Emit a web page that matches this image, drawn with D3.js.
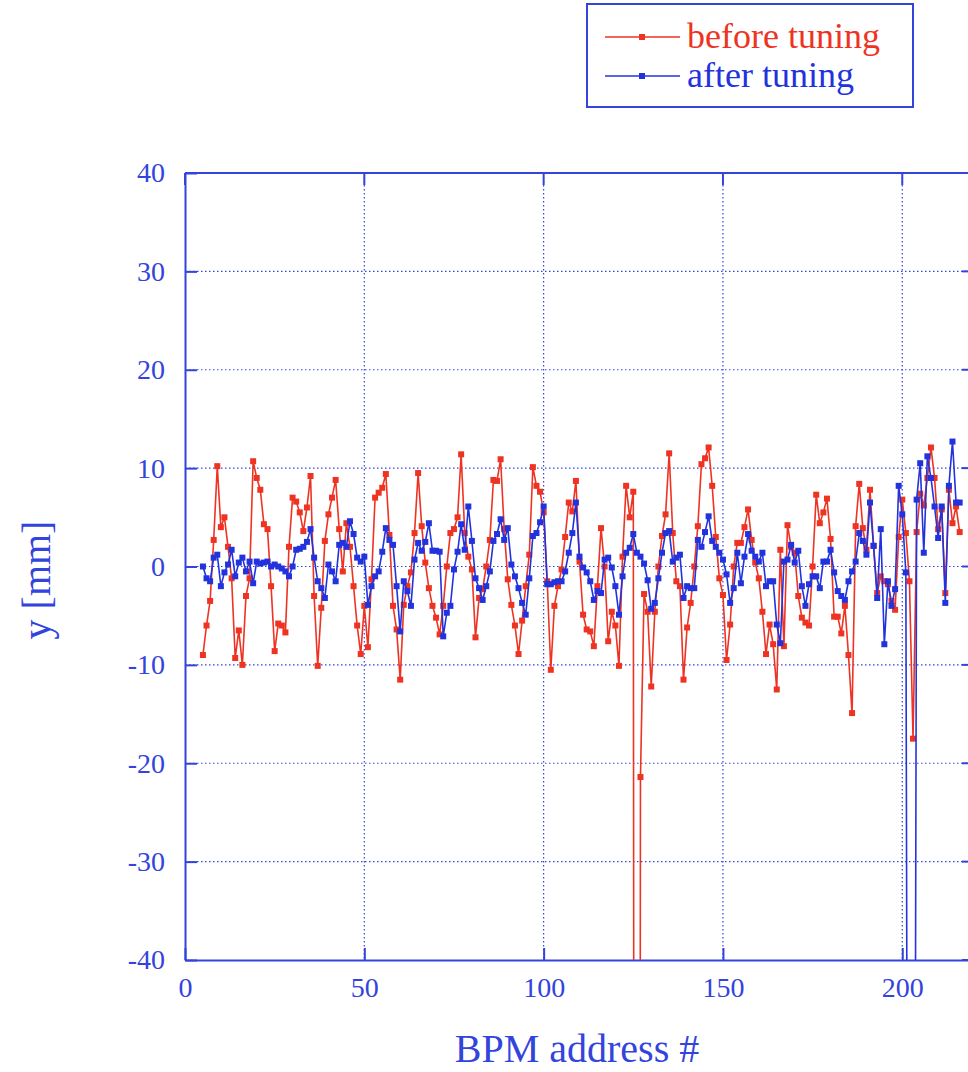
<!DOCTYPE html>
<html>
<head>
<meta charset="utf-8">
<script src="https://cdn.jsdelivr.net/npm/d3@7"></script>
<style>
  html, body { margin: 0; padding: 0; background: #fff; overflow: hidden; }
  svg { display: block; font-family: "Liberation Serif", "DejaVu Serif", serif; }
</style>
</head>
<body>
<svg id="chart" width="968" height="1072"></svg>
<script>
// BPM addresses (x) shared by both series
var addresses = d3.range(5, 217);

// vertical orbit before tuning [mm], one per address
var beforeTuning = [
  -9, -6, -3.5, 2.7, 10.2, 4, 5, 2, -1.2, -9.3,
  -6.5, -10, -3, -1.2, 10.7, 9, 7.8, 4.3, 3.8, -2,
  -8.6, -5.8, -6, -6.7, 2, 7, 6.6, 5.5, 3.6, 6,
  9.2, -3, -10.1, -4.2, 2.6, 5.3, 7, 8.8, 3.8, -0.5,
  4.4, 2, -2, -6, -8.9, -4, -8.2, -1.3, 7, 7.5,
  8, 9.4, 3.2, -4, -6.4, -11.5, -3.9, -2, -0.6, 3.4,
  9.5, 4.1, 0.4, -2.2, -4, -5.2, -6.9, -4, 0, 3.4,
  3.8, 5, 11.4, 3.4, 1, -0.3, -7.2, -3.2, -2.3, 0,
  2.7, 8.8, 8.7, 10.9, 3.8, -1.3, -3.9, -6, -8.9, -5.5,
  -2, 1.2, 10.1, 8.2, 7.6, 5.5, -1.5, -10.5, -4, -2,
  -0.3, 3, 6.5, 5.6, 8.7, 0.5, -4.9, -6.4, -6.6, -8.1,
  -2, 3.9, 0, -7.6, -4.6, -6, -10.1, 1, 8.2, 5,
  7.6, -400, -21.4, -2.8, -4.6, -12.2, -4.6, 0, 3.1, 5.3,
  11.5, 3.4, -1.5, -2, -11.5, -6.2, -3.7, 0, 4.1, 10.4,
  11, 12.1, 8.2, 3, -1.2, -2.9, -9.5, -5.9, 0, 2.4,
  2.4, 4, 5.8, 2.7, 0.4, -1.2, -4.6, -8.9, -5.9, -7.9,
  -12.5, 1.7, -8.1, 4.2, 2, 1.4, -3, -5.2, -5.7, -6,
  0, 7.3, 4.4, 5.5, 6.9, 2.8, -5.1, -5.1, -6.8, -4,
  -9, -14.9, 4.1, 8.4, 3.9, 1.7, 7.8, 2.1, -2.7, -1,
  -1.5, -1.8, -3.5, -4.4, 3, 6.8, 3.4, -1.5, -17.5, 3.5,
  7.4, 6.2, 9, 12.1, 9, 3.8, 5.8, -2.7, 7.8, 4.4,
  6.1, 3.5
];

// vertical orbit after tuning [mm]
var afterTuning = [
  0, -1.2, -1.5, 0.9, 1.2, -2, -0.6, 0.2, 1.7, -1,
  0.4, 0.9, -0.5, 0.5, -1.7, 0.5, 0.3, 0.4, 0.5, 0,
  0.2, 0, -0.2, -0.5, -1, 0, 1.7, 1.8, 2, 2.5,
  3.8, 0.9, -1.5, -2.2, -3.2, 0.2, -0.5, -1.5, 2.2, 2.4,
  2, 4.6, 3.3, 0.9, 0.5, 1, -3.9, -2, -1, -0.5,
  1.5, 3.9, 2.7, 2.2, -2, -6.6, -1.5, -2.5, -4, 0.7,
  2.4, 1.6, 2.5, 4.4, 1.6, 1.6, 1.5, -7.1, -4.7, -4,
  -0.3, 1.5, 4.3, 1.7, 6.1, 2.6, -1.2, -2.2, -3.4, -2,
  -0.5, 2.6, 3.3, 4.8, 2.7, 3.9, 0.2, -1, -2.2, -3.7,
  -4.9, -1.2, 3.1, 3.4, 4.5, 6.1, -1.8, -1.8, -1.6, -1.5,
  -1.5, -0.5, 1.4, 3.4, 6.5, 1, -0.1, -0.6, -1.5, -3.4,
  -2.5, -2.7, 0.7, 0.9, -0.1, -2, -4.9, -1, 1.4, 1.9,
  3.3, 1.4, 1, 0.3, -1.4, -4.3, -3.7, -1.2, 1.4, 3.4,
  3.6, 0.5, 0.9, 1.2, -3.2, -2, -2.2, -2.2, 2.7, 2,
  3.5, 5.1, 2.6, 2, 1.4, 0.7, -0.8, -3.7, -2.2, 1.4,
  -1.7, 1, 3.3, 1.6, 1, 0.5, 1.4, -2, -1.5, -1.5,
  -5.9, -7.8, 0.5, 0.7, 2.2, 0.4, 1.6, -2, -4, -1.8,
  -1, -1, -2.2, 0.5, 0.5, 1.7, -0.6, -2.5, -3, -3.4,
  -1.5, -0.5, 0.5, 3.4, 2.6, 1.2, 6.5, 2.1, -3.2, 3.8,
  -7.9, -1.5, -4, -2.3, 8.2, 5.3, -0.6, -150, -150, 6.8,
  10.5, 1.4, 11.2, 9, 6.1, 2.9, 6.1, -3.7, 8.2, 12.7,
  6.5, 6.5
];

var xTicks = [0, 50, 100, 150, 200];
var yTicks = [-40, -30, -20, -10, 0, 10, 20, 30, 40];

var seriesNames = ['before tuning', 'after tuning'];
var seriesColors = ['#ee3322', '#2233dd'];
var axisColor = '#3344dd';

var svg = d3.select('#chart');
var margin = { left: 185, top: 173, right: 974, bottom: 960 };

var x = d3.scaleLinear().domain([0, 220]).range([margin.left, margin.right]);
var y = d3.scaleLinear().domain([-40, 40]).range([margin.bottom, margin.top]);

// clip to plot area
svg.append('defs').append('clipPath').attr('id', 'plot-clip')
  .append('rect')
  .attr('x', margin.left).attr('y', margin.top)
  .attr('width', margin.right - margin.left)
  .attr('height', margin.bottom - margin.top);

// grid lines (dotted)
var grid = svg.append('g').attr('class', 'grid');
grid.selectAll('line.gx')
  .data(xTicks.filter(function (d) { return d > 0; }))
  .enter().append('line')
  .attr('x1', function (d) { return x(d); })
  .attr('x2', function (d) { return x(d); })
  .attr('y1', margin.top).attr('y2', margin.bottom)
  .attr('stroke', axisColor).attr('stroke-width', 1.2)
  .attr('stroke-dasharray', '1.5,2.5');
grid.selectAll('line.gy')
  .data(yTicks.filter(function (d) { return d > -40 && d < 40; }))
  .enter().append('line')
  .attr('x1', margin.left).attr('x2', margin.right)
  .attr('y1', function (d) { return y(d); })
  .attr('y2', function (d) { return y(d); })
  .attr('stroke', axisColor).attr('stroke-width', 1.2)
  .attr('stroke-dasharray', '1.5,2.5');

// axes with inner ticks, plain hyphen minus in labels
var fmt = function (d) { return String(d); };
var xAxis = d3.axisBottom(x).tickValues(xTicks).tickFormat(fmt).tickSizeInner(-12).tickSizeOuter(0);
var yAxis = d3.axisLeft(y).tickValues(yTicks).tickFormat(fmt).tickSizeInner(-12).tickSizeOuter(0);

var gx = svg.append('g').attr('transform', 'translate(0,' + margin.bottom + ')').call(xAxis);
var gy = svg.append('g').attr('transform', 'translate(' + margin.left + ',0)').call(yAxis);
[gx, gy].forEach(function (g) {
  g.selectAll('path, line').attr('stroke', axisColor).attr('stroke-width', 2);
  g.selectAll('text').attr('fill', axisColor).attr('font-size', 28)
    .attr('font-family', '"Liberation Serif", serif');
});
gx.selectAll('text').attr('dy', '0.71em').attr('y', 17);
gy.selectAll('text').attr('x', -20);

// frame top & right
svg.append('line').attr('x1', margin.left).attr('x2', margin.right)
  .attr('y1', margin.top).attr('y2', margin.top)
  .attr('stroke', axisColor).attr('stroke-width', 2);
svg.append('line').attr('x1', margin.right).attr('x2', margin.right)
  .attr('y1', margin.top).attr('y2', margin.bottom)
  .attr('stroke', axisColor).attr('stroke-width', 2);
// inner ticks on top/right
svg.append('g').selectAll('line').data(xTicks).enter().append('line')
  .attr('x1', function (d) { return x(d); }).attr('x2', function (d) { return x(d); })
  .attr('y1', margin.top).attr('y2', margin.top + 12)
  .attr('stroke', axisColor).attr('stroke-width', 2);
svg.append('g').selectAll('line').data(yTicks).enter().append('line')
  .attr('x1', margin.right - 12).attr('x2', margin.right)
  .attr('y1', function (d) { return y(d); }).attr('y2', function (d) { return y(d); })
  .attr('stroke', axisColor).attr('stroke-width', 2);

// series
var line = d3.line()
  .x(function (d) { return x(d[0]); })
  .y(function (d) { return y(d[1]); });

var plot = svg.append('g').attr('clip-path', 'url(#plot-clip)');
[beforeTuning, afterTuning].forEach(function (vals, i) {
  var pts = addresses.map(function (a, k) { return [a, vals[k]]; });
  plot.append('path').datum(pts)
    .attr('d', line)
    .attr('fill', 'none')
    .attr('stroke', seriesColors[i])
    .attr('stroke-width', 1.6);
  plot.append('g').selectAll('rect').data(pts).enter().append('rect')
    .attr('x', function (d) { return x(d[0]) - 3; })
    .attr('y', function (d) { return y(d[1]) - 3; })
    .attr('width', 6).attr('height', 6)
    .attr('fill', seriesColors[i]);
});

// axis titles
svg.append('text')
  .attr('x', 577).attr('y', 1062)
  .attr('text-anchor', 'middle')
  .attr('fill', axisColor).attr('font-size', 40)
  .text('BPM address #');
svg.append('text')
  .attr('transform', 'translate(50,580) rotate(-90)')
  .attr('text-anchor', 'middle')
  .attr('fill', axisColor).attr('font-size', 40)
  .text('y [mm]');

// legend
var legend = svg.append('g');
legend.append('rect')
  .attr('x', 587).attr('y', 4).attr('width', 326).attr('height', 103)
  .attr('fill', '#fff').attr('stroke', axisColor).attr('stroke-width', 2);
seriesNames.forEach(function (name, i) {
  var ly = 37 + i * 39;
  legend.append('line')
    .attr('x1', 605).attr('x2', 680).attr('y1', ly).attr('y2', ly)
    .attr('stroke', seriesColors[i]).attr('stroke-width', 1.6);
  legend.append('rect')
    .attr('x', 642 - 3).attr('y', ly - 3).attr('width', 6).attr('height', 6)
    .attr('fill', seriesColors[i]);
  legend.append('text')
    .attr('x', 687).attr('y', ly + 11)
    .attr('fill', seriesColors[i]).attr('font-size', 36)
    .text(name);
});
</script>
</body>
</html>
